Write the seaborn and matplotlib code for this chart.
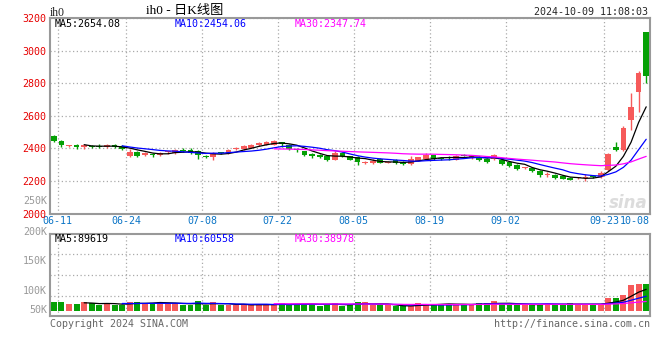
import numpy as np
import pandas as pd
import matplotlib
matplotlib.use('Agg')
import matplotlib.pyplot as plt
import seaborn as sns

sns.set_theme(style='white')
plt.rcParams['font.family'] = ['DejaVu Sans Mono', 'Noto Sans CJK SC']

# daily K data for ih0, 2024-06-11 .. 2024-10-08
opens = [2473, 2446, 2416, 2422, 2408, 2412, 2412, 2408, 2418, 2416,
         2351, 2380, 2357, 2368, 2357, 2377, 2374, 2392, 2392, 2386,
         2351, 2347, 2372, 2372, 2396, 2396, 2402, 2418, 2422, 2422,
         2436, 2422, 2398, 2382, 2366, 2360, 2351, 2331, 2370, 2351,
         2347, 2311, 2311, 2335, 2313, 2331, 2317, 2303, 2325, 2337,
         2357, 2343, 2342, 2331, 2362, 2341, 2347, 2335, 2335, 2327,
         2315, 2295, 2278, 2281, 2261, 2234, 2236, 2230, 2220, 2216,
         2219, 2228, 2226, 2267, 2406, 2389, 2571, 2745, 3113]
closes = [2448, 2418, 2418, 2406, 2422, 2410, 2410, 2418, 2408, 2396,
          2376, 2355, 2372, 2357, 2370, 2379, 2392, 2382, 2372, 2362,
          2345, 2372, 2370, 2392, 2404, 2412, 2422, 2430, 2440, 2446,
          2424, 2398, 2388, 2357, 2353, 2349, 2331, 2372, 2352, 2331,
          2317, 2313, 2325, 2311, 2319, 2311, 2303, 2335, 2345, 2361,
          2337, 2333, 2340, 2351, 2355, 2357, 2327, 2315, 2360, 2303,
          2291, 2275, 2281, 2261, 2236, 2244, 2218, 2214, 2206, 2220,
          2221, 2226, 2250, 2366, 2388, 2526, 2654, 2860, 2846]
highs = [2479, 2452, 2422, 2424, 2428, 2418, 2424, 2424, 2428, 2420,
         2396, 2384, 2380, 2372, 2376, 2386, 2396, 2402, 2402, 2392,
         2359, 2380, 2380, 2398, 2408, 2418, 2424, 2436, 2446, 2452,
         2440, 2428, 2402, 2386, 2372, 2366, 2357, 2382, 2376, 2355,
         2351, 2325, 2335, 2341, 2325, 2335, 2321, 2351, 2349, 2372,
         2361, 2347, 2351, 2361, 2366, 2361, 2355, 2339, 2366, 2335,
         2321, 2301, 2287, 2287, 2267, 2254, 2240, 2234, 2224, 2224,
         2244, 2234, 2260, 2372, 2441, 2536, 2739, 2877, 3113]
lows = [2440, 2408, 2408, 2396, 2396, 2400, 2400, 2402, 2400, 2388,
        2347, 2347, 2351, 2345, 2351, 2366, 2368, 2380, 2368, 2335,
        2339, 2327, 2364, 2368, 2392, 2392, 2400, 2414, 2418, 2418,
        2408, 2392, 2376, 2351, 2341, 2343, 2321, 2327, 2348, 2327,
        2297, 2301, 2305, 2307, 2309, 2303, 2299, 2297, 2321, 2335,
        2327, 2327, 2327, 2327, 2351, 2335, 2325, 2311, 2331, 2297,
        2287, 2267, 2271, 2255, 2226, 2224, 2214, 2210, 2206, 2210,
        2200, 2218, 2220, 2260, 2385, 2385, 2510, 2623, 2804]
volumes = [37200, 37200, 28900, 28900, 37200, 31800, 26000, 31800, 26000, 26000,
           37200, 37200, 31800, 31800, 37200, 31800, 31800, 23500, 26000, 41300,
           23500, 37200, 23500, 26000, 26000, 26000, 26000, 26000, 26000, 27700,
           31800, 26000, 30100, 30100, 30100, 21900, 26000, 33000, 21900, 26000,
           37200, 37200, 23500, 23500, 23500, 19400, 19400, 19400, 33000, 30100,
           27700, 27700, 27700, 28900, 27700, 23500, 33000, 31800, 40000, 30100,
           24800, 24800, 24800, 30100, 28900, 30100, 24800, 24800, 33000, 28900,
           28900, 24800, 24800, 53700, 53700, 64800, 106100, 110300, 112700]

tick_idx = [0, 9, 19, 29, 39, 49, 59, 72, 78]
tick_labels = ['06-11', '06-24', '07-08', '07-22', '08-05', '08-19', '09-02', '09-23', '10-08']
price_ticks = [2000, 2200, 2400, 2600, 2800, 3000, 3200]
vol_tick_labels = ['250K', '200K', '150K', '100K', '50K']

ma_windows = [5, 10, 30]
ma_colors = ['#000000', '#0000ff', '#ff00ff']
price_ma_text = ['MA5:2654.08', 'MA10:2454.06', 'MA30:2347.74']
vol_ma_text = ['MA5:89619', 'MA10:60558', 'MA30:38978']

RED, GREEN = '#f65a5a', '#05a005'
GRID = '#aaaaaa'
FRAME = '#999999'

df = pd.DataFrame({'open': opens, 'close': closes, 'high': highs,
                   'low': lows, 'volume': volumes})
df['idx'] = np.arange(len(df))
colors = np.where(df['close'] >= df['open'], RED, GREEN)

W, H = 660, 360
fig = plt.figure(figsize=(W / 100, H / 100), dpi=100)
ax = fig.add_axes([50 / W, 1 - 213.5 / H, 600 / W, 195.5 / H])
axv = fig.add_axes([50 / W, 1 - 316 / H, 600 / W, 82 / H])

# candles
ax.vlines(df['idx'], df['low'], df['high'], colors=colors, lw=1, zorder=2)
body_lo = df[['open', 'close']].min(axis=1)
body_h = (df['close'] - df['open']).abs().clip(lower=5)
ax.bar(df['idx'], body_h, bottom=body_lo, width=0.76, color=colors, lw=0, zorder=3)

# volume bars
axv.bar(df['idx'], df['volume'], width=0.78, color=colors, lw=0, zorder=2)

# moving averages on both panels
for w, c in zip(ma_windows, ma_colors):
    sns.lineplot(x=df['idx'], y=df['close'].rolling(w).mean(), ax=ax,
                 color=c, lw=0.9, zorder=4)
    sns.lineplot(x=df['idx'], y=df['volume'].rolling(w).mean(), ax=axv,
                 color=c, lw=0.9, zorder=4)

n = len(df)
for a in (ax, axv):
    a.set_xlim(-0.5, n - 0.5)
    a.set_xlabel('')
    a.set_ylabel('')
    a.set_xticks([i + 0.5 for i in tick_idx])
    a.grid(axis='both', ls=(0, (1, 2)), color=GRID, lw=0.9, zorder=0)
    a.tick_params(length=0)
    for s in a.spines.values():
        s.set_color(FRAME)
        s.set_linewidth(1.5)

ax.set_ylim(price_ticks[0], price_ticks[-1])
ax.set_yticks(price_ticks)
ax.set_yticklabels([str(p) for p in price_ticks], color='#e60000', fontsize=7.2)
ax.tick_params(axis='y', pad=3)
ax.set_xticklabels(tick_labels, color='#0a74c6', fontsize=7.2)
ax.tick_params(axis='x', pad=2)
ax.get_xticklabels()[-1].set_horizontalalignment('right')

vlo, vhi = -20600, 318000
axv.set_ylim(vlo, vhi)
axv.set_yticks([vlo + (vhi - vlo) * k / 4 for k in (1, 2, 3)])
axv.set_yticklabels([])
axv.set_xticklabels([])

# texts
def px(x, y):
    return x / W, 1 - y / H

fig.text(*px(50, 12.5), 'ih0', family=['Liberation Serif'], fontsize=8.5,
         va='center', color='#222222')
fig.text(*px(185, 10.8), 'ih0 - 日K线图', family=['Liberation Serif', 'Noto Sans CJK SC'],
         fontsize=9.5, ha='center', va='center', color='#000000')
fig.text(*px(648, 12.3), '2024-10-09 11:08:03', fontsize=7.2, ha='right', va='center')

for x, t, c in zip([55, 175, 295], price_ma_text, ma_colors):
    fig.text(*px(x, 24), t, fontsize=7.2, color=c, va='center')
for x, t, c in zip([55, 175, 295], vol_ma_text, ma_colors):
    fig.text(*px(x, 238.5), t, fontsize=7.2, color=c, va='center')

for y, t in zip([200.7, 231.5, 260.7, 290.7, 310], vol_tick_labels):
    fig.text(*px(47, y), t, fontsize=7.2, color='#999999', ha='right', va='center')

fig.text(*px(50, 324), 'Copyright 2024 SINA.COM', fontsize=7.2, color='#666666', va='center')
fig.text(*px(650, 324), 'http://finance.sina.com.cn', fontsize=7.2, color='#666666',
         ha='right', va='center')
fig.text(*px(648, 203), 'sina', fontsize=12, style='italic', weight='bold',
         family=['DejaVu Sans'], color='#dcdcdc', ha='right', va='center')

fig.savefig('out.png', dpi=100)
